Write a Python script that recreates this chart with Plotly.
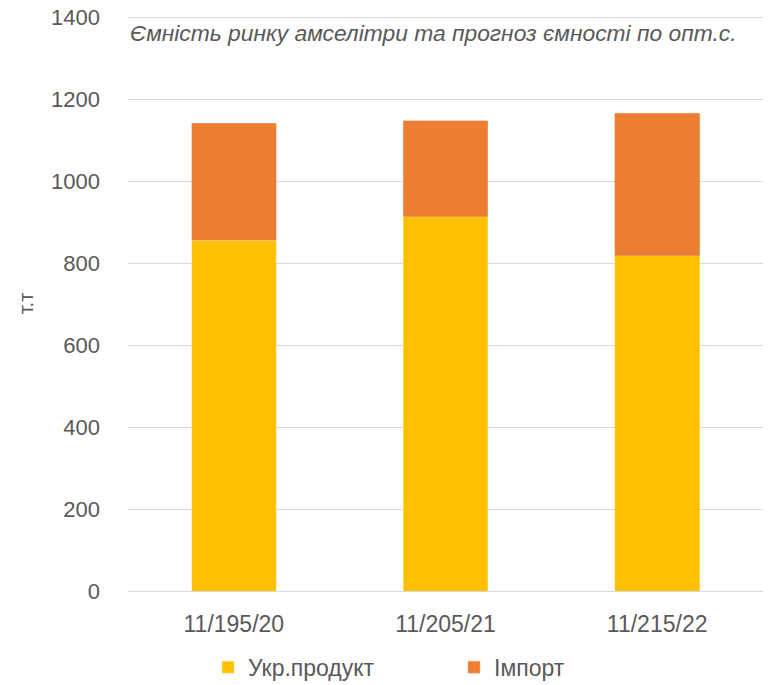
import plotly.graph_objects as go

categories = ["11/195/20", "11/205/21", "11/215/22"]
ukr_product = [856, 914, 819]
imports = [286, 234, 348]
y_ticks = [0, 200, 400, 600, 800, 1000, 1200, 1400]

TEXT = "#595959"
FONT = "Liberation Sans, Arial, sans-serif"

fig = go.Figure()
fig.add_bar(x=categories, y=ukr_product, name="Укр.продукт",
            marker=dict(color="#FFC000", line=dict(color="#FFE699", width=0.5)))
fig.add_bar(x=categories, y=imports, name="Імпорт",
            marker=dict(color="#ED7D31", line=dict(color="#F4B183", width=0.5)))

fig.update_layout(
    width=773, height=685,
    barmode="stack", bargap=0.6,
    plot_bgcolor="white", paper_bgcolor="white",
    margin=dict(l=128, r=10, t=16, b=94, autoexpand=False),
    font=dict(family=FONT, size=22, color=TEXT),
    showlegend=True,
    legend=dict(orientation="h", traceorder="normal",
                x=0.126, xanchor="left", y=-0.1325, yanchor="middle",
                entrywidth=201, entrywidthmode="pixels", itemwidth=30,
                font=dict(size=23, color=TEXT)),
    annotations=[dict(text="Ємність ринку амселітри та прогноз ємності по опт.с.",
                      xref="paper", yref="paper", x=0.0, y=0.97,
                      xanchor="left", yanchor="middle", showarrow=False,
                      font=dict(family=FONT, size=22.8, color=TEXT, style="italic"))],
)
fig.update_yaxes(range=[0, 1404], tickvals=y_ticks, showgrid=True, gridcolor="#D9D9D9",
                 gridwidth=1, zeroline=False, ticklabelstandoff=27,
                 tickfont=dict(size=22),
                 title=dict(text="т.т", font=dict(size=20, color=TEXT), standoff=12))
fig.update_xaxes(showline=True, linecolor="#D9D9D9", linewidth=1, ticklabelstandoff=12,
                 tickfont=dict(size=23))

fig.write_html("out.html", config={"displayModeBar": False},
               post_script="document.body.style.margin='0px';")
